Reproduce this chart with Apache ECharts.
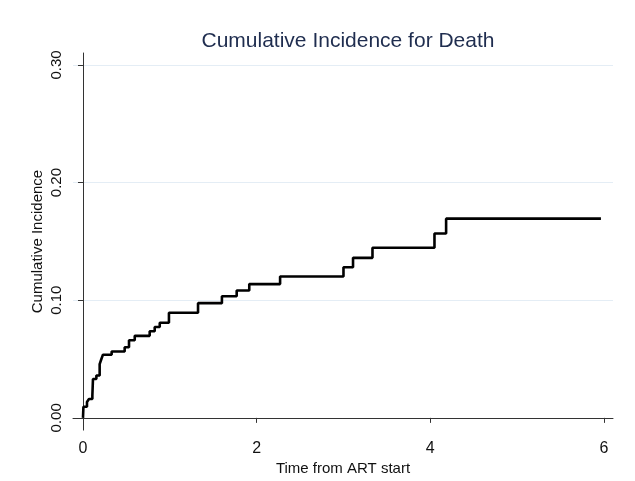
<!DOCTYPE html>
<html>
<head>
<meta charset="utf-8">
<script src="https://cdn.jsdelivr.net/npm/echarts@6/dist/echarts.min.js"></script>
<style>html,body{margin:0;padding:0;background:#fff}#c{width:635px;height:481px}</style>
</head>
<body>
<div id="c"></div>
<script>
// Event times (years from ART start) and cumulative incidence after each step
const times = [0, 0.005, 0.046, 0.069, 0.108, 0.115, 0.154, 0.192, 0.212, 0.230, 0.330, 0.480, 0.530, 0.596, 0.768, 0.826, 0.884, 0.990, 1.325, 1.600, 1.770, 1.915, 2.270, 3.000, 3.110, 3.334, 4.048, 4.182, 5.965];
const cumInc = [0, 0.0095, 0.0135, 0.016, 0.019, 0.033, 0.036, 0.0457, 0.050, 0.0537, 0.0564, 0.060, 0.066, 0.0697, 0.0736, 0.0772, 0.0809, 0.0893, 0.0975, 0.1034, 0.1082, 0.1137, 0.1202, 0.128, 0.136, 0.1446, 0.1567, 0.1693, 0.1693];
const xTicks = [0, 2, 4, 6];
const yTicks = [0, 0.1, 0.2, 0.3];
const yTickLabels = ['0.00', '0.10', '0.20', '0.30'];

const chart = echarts.init(document.getElementById('c'), null, {renderer: 'canvas'});
const font = '"Liberation Sans", Arial, sans-serif';
chart.setOption({
  animation: false,
  backgroundColor: '#ffffff',
  title: {
    text: 'Cumulative Incidence for Death',
    left: 343, top: 26, textAlign: 'center',
    textStyle: {fontFamily: font, fontSize: 21, fontWeight: 'normal', color: '#1f2d4f'}
  },
  grid: {left: 73, right: 22, top: 53, bottom: 48, containLabel: false},
  xAxis: {
    type: 'value', min: -0.115, max: 6.104,
    name: 'Time from ART start', nameLocation: 'middle', nameGap: 30,
    nameTextStyle: {fontFamily: font, fontSize: 15, color: '#111'},
    axisLine: {show: true, lineStyle: {color: '#333', width: 1}},
    axisTick: {show: true, inside: false, length: 5, customValues: xTicks, lineStyle: {color: '#333'}},
    axisLabel: {customValues: xTicks, fontFamily: font, fontSize: 16, color: '#111', margin: 10},
    splitLine: {show: false}
  },
  yAxis: {
    type: 'value', min: -0.0104, max: 0.3101,
    name: 'Cumulative Incidence', nameLocation: 'middle', nameGap: 28, nameRotate: 90,
    nameMoveOverlap: false,
    nameTextStyle: {fontFamily: font, fontSize: 15, color: '#111'},
    axisLine: {show: true, lineStyle: {color: '#333', width: 1}},
    axisTick: {show: true, inside: false, length: 5, customValues: yTicks, lineStyle: {color: '#333'}},
    axisLabel: {customValues: yTicks, rotate: 90, fontFamily: font, fontSize: 15, color: '#111', margin: 9,
      formatter: function (v) { const i = yTicks.findIndex(t => Math.abs(t - v) < 1e-9); return i >= 0 ? yTickLabels[i] : ''; }},
    splitLine: {show: true, lineStyle: {color: '#e4edf5', width: 1}}
  },
  series: [{
    type: 'line', step: 'end', showSymbol: false, symbol: 'none',
    data: times.map((t, i) => [t, cumInc[i]]),
    lineStyle: {color: '#000', width: 2.6},
    z: 5
  }]
});
</script>
</body>
</html>
